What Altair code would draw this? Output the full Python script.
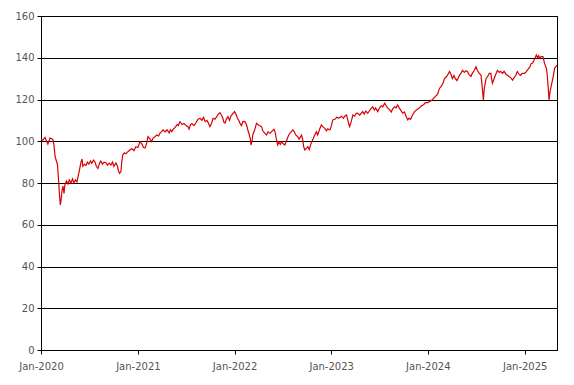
import altair as alt
import pandas as pd

dates_2020 = ["2020-01-01","2020-01-08","2020-01-16","2020-01-24","2020-01-27","2020-02-04","2020-02-11","2020-02-15","2020-02-19","2020-02-23","2020-02-27","2020-03-03","2020-03-07","2020-03-11","2020-03-14","2020-03-16","2020-03-20","2020-03-24","2020-03-28","2020-03-31","2020-04-06","2020-04-12","2020-04-17","2020-04-23","2020-04-29","2020-05-04","2020-05-10","2020-05-16","2020-05-20","2020-05-25","2020-05-31","2020-06-04","2020-06-07","2020-06-13","2020-06-19","2020-06-24","2020-06-30","2020-07-06","2020-07-11","2020-07-17","2020-07-23","2020-07-28","2020-08-03","2020-08-09","2020-08-14","2020-08-20","2020-08-26","2020-09-02","2020-09-08","2020-09-14","2020-09-21","2020-09-27","2020-10-02","2020-10-10","2020-10-16","2020-10-19","2020-10-24","2020-10-29","2020-11-01","2020-11-05","2020-11-11","2020-11-17","2020-11-24","2020-12-02","2020-12-09","2020-12-17","2020-12-24"]
values_2020 = [101.0,100.5,101.8,99.5,98.6,101.5,101.2,100.8,98.0,93,91,89,82,74,69.5,71,76,78.5,75,79,81,79.5,81.5,80,82,80,81.5,80.5,83,86,90,91.5,88,89,88.5,90,89,90.5,89.5,91,90,88,87,89.5,90.5,89,90,89.7,88.5,89.5,88.6,90,88,89.6,88,86,84.6,85.5,90,93.5,94.5,94,95,95.8,96.5,95.5,97.4]

dates_2021 = ["2021-01-01","2021-01-09","2021-01-17","2021-01-22","2021-01-28","2021-02-03","2021-02-08","2021-02-16","2021-02-22","2021-02-27","2021-03-05","2021-03-13","2021-03-20","2021-03-26","2021-03-31","2021-04-06","2021-04-14","2021-04-21","2021-04-29","2021-05-04","2021-05-09","2021-05-16","2021-05-21","2021-05-29","2021-06-03","2021-06-09","2021-06-17","2021-06-24","2021-07-02","2021-07-09","2021-07-13","2021-07-19","2021-07-24","2021-08-01","2021-08-09","2021-08-16","2021-08-24","2021-08-31","2021-09-06","2021-09-12","2021-09-19","2021-09-25","2021-09-30","2021-10-06","2021-10-12","2021-10-19","2021-10-27","2021-11-01","2021-11-07","2021-11-13","2021-11-18","2021-11-22","2021-11-26","2021-12-01","2021-12-07","2021-12-13","2021-12-18","2021-12-24"]
values_2021 = [97,99.8,98.5,97,96.8,99,102.2,101,99.8,101.5,102,103,102.5,104,104.5,105.4,104.5,105.5,104,105.5,104.6,106,106.5,108,107.5,109.4,108,108.5,107.5,107,105.8,108,108.5,107.5,109,110.5,111,110,111.5,109.4,110,108.5,107,108.5,111,110.5,112,113,113.7,112.5,111,109,108.7,110.5,111.8,110,112,113]

dates_2022 = ["2022-01-01","2022-01-06","2022-01-12","2022-01-17","2022-01-21","2022-01-27","2022-02-02","2022-02-09","2022-02-15","2022-02-20","2022-02-26","2022-03-02","2022-03-04","2022-03-08","2022-03-11","2022-03-17","2022-03-25","2022-03-30","2022-04-05","2022-04-13","2022-04-18","2022-04-24","2022-05-02","2022-05-07","2022-05-15","2022-05-20","2022-05-30","2022-06-04","2022-06-08","2022-06-13","2022-06-17","2022-06-23","2022-06-27","2022-07-02","2022-07-10","2022-07-17","2022-07-23","2022-07-29","2022-08-03","2022-08-09","2022-08-15","2022-08-20","2022-08-28","2022-09-02","2022-09-11","2022-09-16","2022-09-19","2022-09-23","2022-09-29","2022-10-05","2022-10-10","2022-10-16","2022-10-23","2022-10-31","2022-11-06","2022-11-11","2022-11-19","2022-11-25","2022-11-30","2022-12-08","2022-12-14","2022-12-19","2022-12-27"]
values_2022 = [114.2,113,111,110,108.7,107.5,109.5,109.4,108,105.5,103,101,98.2,100,103,105,108.6,108,107.5,107,105,104,103,104.5,103.8,104.5,105.7,104,101,98.2,99.5,98.5,99.8,99,98.2,100.5,102.5,103.8,104.5,105.4,104.5,103,102.2,101,103,100.5,97.5,95.8,96.5,97.4,96,98.5,100.6,103,104.6,103,106,107.8,107,106.2,105,106,105.4]

dates_2023 = ["2023-01-01","2023-01-07","2023-01-15","2023-01-22","2023-01-30","2023-02-09","2023-02-16","2023-02-21","2023-02-28","2023-03-05","2023-03-09","2023-03-12","2023-03-18","2023-03-24","2023-03-31","2023-04-06","2023-04-11","2023-04-19","2023-04-25","2023-04-30","2023-05-06","2023-05-12","2023-05-19","2023-05-25","2023-05-31","2023-06-07","2023-06-13","2023-06-18","2023-06-26","2023-07-03","2023-07-09","2023-07-15","2023-07-22","2023-07-28","2023-08-02","2023-08-10","2023-08-16","2023-08-21","2023-08-29","2023-09-03","2023-09-09","2023-09-15","2023-09-20","2023-09-28","2023-10-05","2023-10-11","2023-10-17","2023-10-22","2023-10-28","2023-11-04","2023-11-12","2023-11-19","2023-12-01","2023-12-08","2023-12-16","2023-12-23"]
values_2023 = [107,110.2,110.5,111.5,111,112,111,112,112.6,110,108,107,109.5,112.6,112,113.5,113.4,112.5,113.5,114.2,113,114.5,113.4,114.5,115.5,116.5,115,116,114.2,116,117,116.5,118.2,117,116,115,114,115.5,116.5,116,117.4,116,115,113.4,114,112,110.2,111,110.5,112.5,114.2,115,116,117,117.5,118.5]

dates_2024 = ["2024-01-01","2024-01-08","2024-01-15","2024-01-23","2024-01-30","2024-02-07","2024-02-14","2024-02-22","2024-02-28","2024-03-04","2024-03-12","2024-03-17","2024-03-23","2024-03-29","2024-04-03","2024-04-09","2024-04-14","2024-04-20","2024-04-26","2024-04-30","2024-05-05","2024-05-11","2024-05-18","2024-05-24","2024-05-30","2024-06-04","2024-06-12","2024-06-17","2024-06-25","2024-07-01","2024-07-06","2024-07-13","2024-07-20","2024-07-23","2024-07-26","2024-07-29","2024-08-01","2024-08-08","2024-08-14","2024-08-20","2024-08-26","2024-08-29","2024-09-01","2024-09-06","2024-09-12","2024-09-20","2024-09-27","2024-10-02","2024-10-09","2024-10-15","2024-10-23","2024-10-29","2024-11-03","2024-11-09","2024-11-16","2024-11-22","2024-11-28","2024-12-04","2024-12-11","2024-12-16","2024-12-23"]
values_2024 = [118.5,119,119.5,120.5,121.5,122.5,125.3,126.5,128,130,131,132,133.4,132,130,131.5,130,129,130.5,131.7,132.5,134,133,133.8,133.4,132,131,132.5,134,135.7,134,132.5,131.7,128,124,119.8,125,130,131,132.5,132.5,130,127.8,129.5,131.5,134,133,133.5,132.5,133.5,132,131.5,131,130.5,129.3,130.5,131.5,133.4,132,131.5,132.5]

dates_2025 = ["2025-01-01","2025-01-07","2025-01-14","2025-01-20","2025-01-26","2025-01-31","2025-02-06","2025-02-14","2025-02-19","2025-02-23","2025-02-27","2025-03-04","2025-03-11","2025-03-17","2025-03-24","2025-03-27","2025-03-30","2025-04-03","2025-04-07","2025-04-12","2025-04-18","2025-04-24","2025-05-03"]
values_2025 = [132.5,133.4,134.5,135.5,137.3,137.5,139,141.3,140,141,139.7,140.5,140.5,137.3,135,132,127,119.8,124,127,130.5,135,136.5]

y_ticks = [0, 20, 40, 60, 80, 100, 120, 140, 160]
x_years = [2020, 2021, 2022, 2023, 2024, 2025]

df = pd.DataFrame({
    "date": dates_2020 + dates_2021 + dates_2022 + dates_2023 + dates_2024 + dates_2025,
    "value": values_2020 + values_2021 + values_2022 + values_2023 + values_2024 + values_2025,
})

x_ticks = [alt.DateTime(year=y, month=1, date=1, utc=True) for y in x_years]

chart = alt.Chart(df).mark_line(color="#d90000", strokeWidth=1.2).encode(
    x=alt.X(
        "date:T",
        scale=alt.Scale(
            type="utc",
            domain=[alt.DateTime(year=2020, month=1, date=1, utc=True),
                    alt.DateTime(year=2025, month=5, date=3, utc=True)],
        ),
        axis=alt.Axis(
            values=x_ticks, format="%b-%Y", title=None, grid=False,
            domainColor="black", tickColor="black", tickSize=4,
            labelColor="#555555", labelFont="DejaVu Sans", labelFontSize=10,
            labelPadding=7, labelFlush=False,
        ),
    ),
    y=alt.Y(
        "value:Q",
        scale=alt.Scale(domain=[0, 160], nice=False),
        axis=alt.Axis(
            values=y_ticks, title=None, grid=True, gridColor="black",
            gridOpacity=1, gridWidth=1,
            domainColor="black", tickColor="black", tickSize=4,
            labelColor="#555555", labelFont="DejaVu Sans", labelFontSize=10,
            labelPadding=3,
        ),
    ),
).properties(
    width=516,
    height=334,
    padding={"left": 33, "top": 8, "right": 9, "bottom": 25},
    autosize=alt.AutoSizeParams(type="none"),
).configure_view(stroke="black", strokeWidth=1)

chart.save("out.html", embed_options={"renderer": "svg", "actions": False})
